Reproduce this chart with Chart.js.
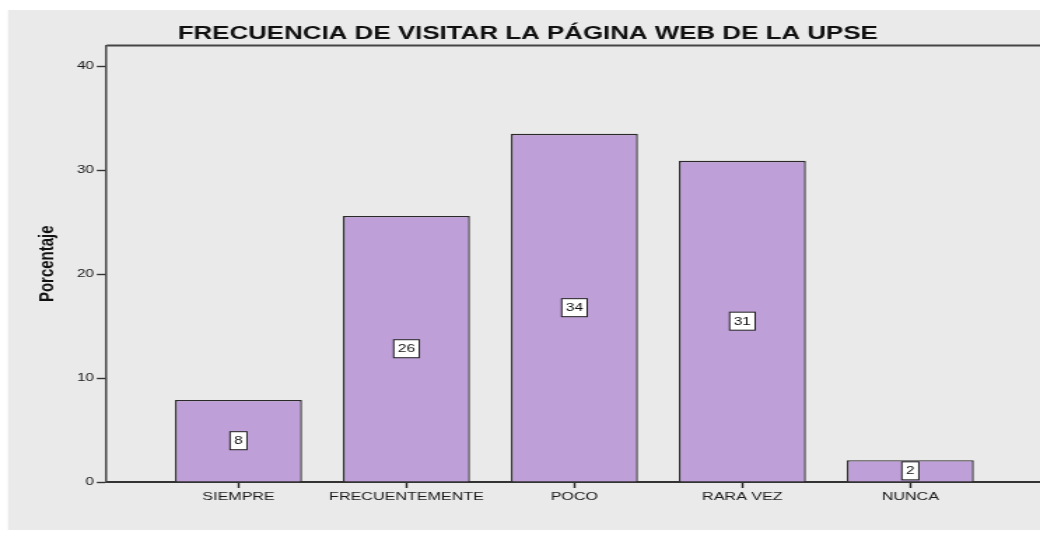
<!DOCTYPE html>
<html>
<head>
<meta charset="utf-8">
<script src="https://cdn.jsdelivr.net/npm/chart.js@4.4.1/dist/chart.umd.min.js"></script>
<style>
  html, body { margin: 0; padding: 0; background: #fff; }
  /* the reference is stretched sideways, so the canvas is drawn narrow and widened by CSS */
  #chart { display: block; width: 1040px !important; height: 536px !important; }
</style>
</head>
<body>
<canvas id="chart" width="743" height="536"></canvas>
<script>
const categories = ['SIEMPRE', 'FRECUENTEMENTE', 'POCO', 'RARA VEZ', 'NUNCA'];
const percentages = [7.9, 25.6, 33.5, 30.9, 2.1];
const yTicks = [0, 10, 20, 30, 40];

const FONT = "'Liberation Sans', Arial, sans-serif";

// paper background + top frame line
const backdrop = {
  id: 'backdrop',
  beforeDraw(chart) {
    const ctx = chart.ctx;
    ctx.save();
    ctx.fillStyle = '#eaeaea';
    ctx.fillRect(5.7, 10, chart.width - 5.7, 520);
    ctx.restore();
  },
  afterDraw(chart) {
    const { ctx, chartArea } = chart;
    ctx.save();
    ctx.strokeStyle = '#444';
    ctx.lineWidth = 2;
    ctx.beginPath();
    ctx.moveTo(chartArea.left, chartArea.top);
    ctx.lineTo(chartArea.right, chartArea.top);
    ctx.stroke();
    ctx.restore();
  }
};

// boxed value labels in the middle of each bar
const boxedLabels = {
  id: 'boxedLabels',
  afterDatasetsDraw(chart) {
    const ctx = chart.ctx;
    const meta = chart.getDatasetMeta(0);
    ctx.save();
    ctx.font = '11px ' + FONT;
    ctx.textAlign = 'center';
    ctx.textBaseline = 'middle';
    meta.data.forEach((bar, i) => {
      const { x, y, base } = bar.getProps(['x', 'y', 'base'], true);
      const cy = (y + base) / 2;
      const txt = String(Math.round(percentages[i]));
      const w = ctx.measureText(txt).width + 6;
      const h = 18;
      ctx.fillStyle = '#fff';
      ctx.fillRect(x - w / 2, cy - h / 2, w, h);
      ctx.strokeStyle = '#222';
      ctx.lineWidth = 1;
      ctx.strokeRect(x - w / 2, cy - h / 2, w, h);
      ctx.fillStyle = '#111';
      ctx.fillText(txt, x, cy + 0.5);
    });
    ctx.restore();
  }
};

new Chart(document.getElementById('chart'), {
  type: 'bar',
  data: {
    datasets: [{
      data: percentages.map((v, i) => ({ x: i, y: v })),
      backgroundColor: '#bf9fd8',
      borderColor: '#2a2a2a',
      borderWidth: 1.4,
      borderSkipped: 'bottom',
      categoryPercentage: 1,
      barPercentage: 0.756
    }]
  },
  options: {
    responsive: false,
    devicePixelRatio: 1,
    animation: false,
    layout: { padding: { left: 11, right: 0, top: 0, bottom: 0 } },
    plugins: {
      legend: { display: false },
      tooltip: { enabled: false },
      title: {
        display: true,
        text: 'FRECUENCIA DE VISITAR LA PÁGINA WEB DE LA UPSE',
        color: '#111',
        font: { family: FONT, size: 18.5, weight: 'bold' },
        padding: { top: 22.9, bottom: 0.4 }
      }
    },
    scales: {
      x: {
        type: 'linear',
        offset: false,
        min: -0.785,
        max: 4.772,
        afterBuildTicks: s => { s.ticks = categories.map((c, i) => ({ value: i })); },
        afterFit: s => { s.height = 54; },
        ticks: {
          autoSkip: false,
          maxRotation: 0,
          padding: 2,
          color: '#1a1a1a',
          font: { family: FONT, size: 11.5 },
          callback: (v, i) => categories[i]
        },
        grid: { offset: false, drawOnChartArea: false, tickLength: 6, color: '#222', tickWidth: 1.4 },
        border: { display: true, color: '#333', width: 2 }
      },
      y: {
        min: 0,
        max: 42,
        afterBuildTicks: s => { s.ticks = yTicks.map(v => ({ value: v })); },
        afterFit: s => { s.width = 65.2; },
        ticks: {
          padding: 2,
          color: '#1a1a1a',
          font: { family: FONT, size: 11 }
        },
        grid: { drawOnChartArea: false, tickLength: 7, color: '#333', tickWidth: 1.4 },
        border: { display: true, color: '#444', width: 1.5 },
        title: {
          display: true,
          text: 'Porcentaje',
          color: '#111',
          font: { family: FONT, size: 15, weight: 'bold' },
          padding: { top: 13.9, bottom: 0 }
        }
      }
    }
  },
  plugins: [backdrop, boxedLabels]
});
</script>
</body>
</html>
